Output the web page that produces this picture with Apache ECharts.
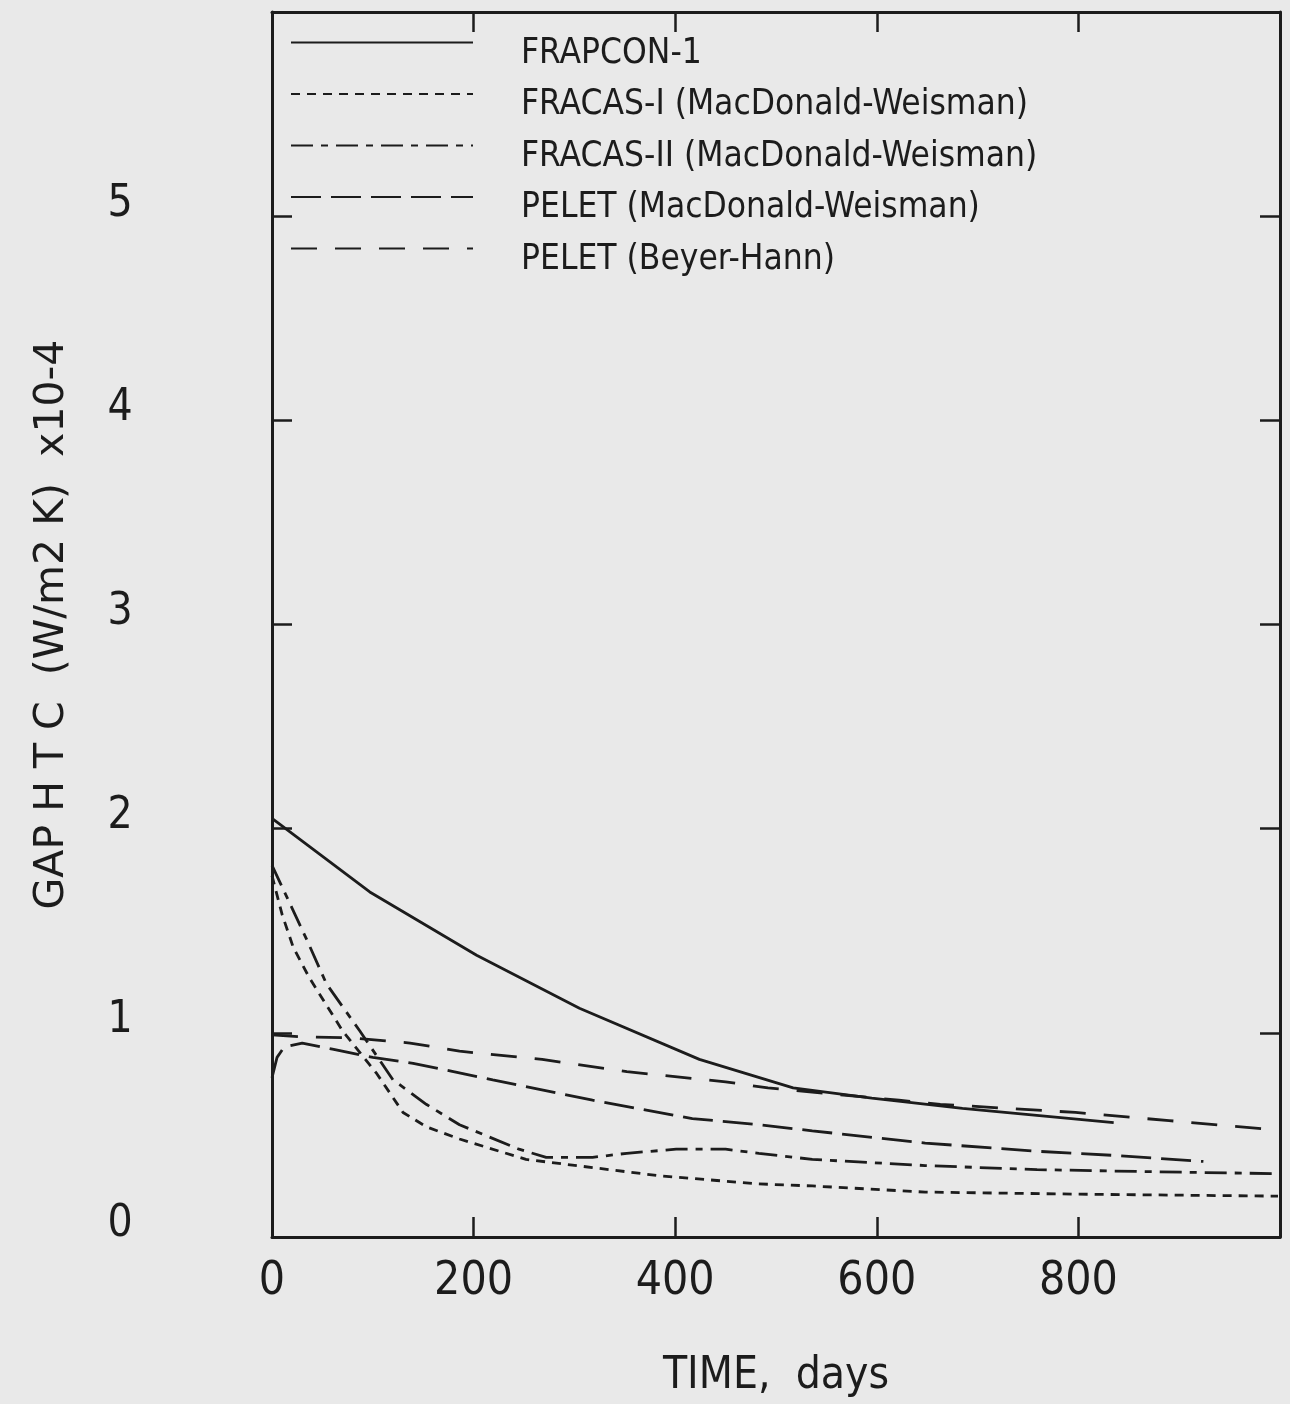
<!DOCTYPE html>
<html>
<head>
<meta charset="utf-8">
<title>GAP HTC vs TIME</title>
<script src="https://cdn.jsdelivr.net/npm/echarts@6/dist/echarts.min.js"></script>
<style>
html, body { margin: 0; padding: 0; background: #e9e9e9; }
#main { width: 1290px; height: 1404px; }
</style>
</head>
<body>
<div id="main"></div>
<script>
/* values: [days, GAP HTC x10-4] */
var frapcon1 = [[0, 2.05], [97, 1.69], [203, 1.38], [305, 1.12], [424, 0.87], [517, 0.73], [595, 0.68], [685, 0.63], [835, 0.56]];
var fracas1 = [[0, 1.77], [10, 1.58], [21, 1.42], [37, 1.27], [70, 1.01], [104, 0.80], [130, 0.61], [153, 0.54], [186, 0.48], [252, 0.38], [318, 0.34], [384, 0.30], [483, 0.26], [536, 0.25], [648, 0.22], [797, 0.21], [998, 0.20]];
var fracas2 = [[0, 1.82], [20, 1.61], [36, 1.44], [54, 1.24], [87, 1.01], [120, 0.77], [153, 0.65], [186, 0.55], [245, 0.43], [272, 0.39], [318, 0.39], [352, 0.41], [401, 0.43], [450, 0.43], [483, 0.41], [536, 0.38], [648, 0.35], [759, 0.33], [871, 0.32], [998, 0.31]];
var peletMW = [[0, 0.78], [5, 0.88], [12, 0.93], [30, 0.95], [60, 0.92], [100, 0.88], [140, 0.85], [180, 0.81], [219, 0.77], [318, 0.67], [417, 0.58], [483, 0.55], [536, 0.52], [648, 0.46], [759, 0.42], [834, 0.40], [924, 0.37]];
var peletBH = [[0, 0.99], [30, 0.98], [80, 0.975], [137, 0.95], [186, 0.91], [268, 0.87], [352, 0.81], [450, 0.76], [492, 0.73], [622, 0.67], [663, 0.65], [797, 0.61], [890, 0.57], [983, 0.53], [998, 0.525]];
var seriesNames = ['FRAPCON-1', 'FRACAS-I (MacDonald-Weisman)', 'FRACAS-II (MacDonald-Weisman)', 'PELET (MacDonald-Weisman)', 'PELET (Beyer-Hann)'];
var xTickLabels = ['0', '200', '400', '600', '800'];
var yTickLabels = ['0', '1', '2', '3', '4', '5'];

var ink = '#1c1c1c';
var narrow = '"Liberation Sans Narrow", "DejaVu Sans Condensed", sans-serif';

function frameAxis(extra) {
	var a = {
		type : 'value',
		axisLine : { show : true, onZero : false, lineStyle : { color : ink, width : 3 } },
		axisTick : { show : true, inside : true, length : 20, lineStyle : { color : ink, width : 2.5 } },
		splitLine : { show : false },
		axisLabel : { show : false }
	};
	for (var k in extra) a[k] = extra[k];
	return a;
}

function makeLine(name, data, dash) {
	return {
		name : name,
		type : 'line',
		data : data,
		symbol : 'none',
		showSymbol : false,
		smooth : false,
		lineStyle : { color : ink, width : 2.8, type : dash },
		itemStyle : { color : ink },
		xAxisIndex : 0,
		yAxisIndex : 0
	};
}

var option = {
	backgroundColor : '#e9e9e9',
	animation : false,
	grid : { left : 272, right : 10, top : 12, bottom : 163 },
	legend : {
		orient : 'vertical',
		left : 290,
		top : 14,
		padding : 0,
		itemWidth : 182,
		itemHeight : 20,
		itemGap : -5.5,
		data : seriesNames,
		itemStyle : { opacity : 0 },
		/* empty first line drops the name a little below its line sample */
		formatter : function(name) { return '\n' + name; },
		textStyle : { color : ink, fontSize : 35, fontFamily : narrow, padding : [0, 0, 0, 43], lineHeight : 22 }
	},
	xAxis : [
		frameAxis({
			min : 0, max : 1000, interval : 200, position : 'bottom',
			name : 'TIME,  days', nameLocation : 'middle', nameGap : 118,
			nameTextStyle : { color : ink, fontSize : 44, fontFamily : narrow },
			axisLabel : {
				show : true, margin : 22, color : ink, fontSize : 46, fontFamily : narrow,
				formatter : function(v) { var i = v / 200; return xTickLabels[i] !== undefined ? xTickLabels[i] : ''; }
			}
		}),
		frameAxis({ min : 0, max : 1000, interval : 200, position : 'top' })
	],
	yAxis : [
		frameAxis({
			min : 0, max : 6, interval : 1, position : 'left',
			name : 'GAP H T C  (W/m2 K)  x10-4', nameLocation : 'middle', nameGap : 199, nameRotate : 90,
			nameTextStyle : { color : ink, fontSize : 41, fontFamily : '"DejaVu Sans", sans-serif' },
			axisLabel : {
				show : true, margin : 152, align : 'center', verticalAlign : 'bottom', lineHeight : 24,
				color : ink, fontSize : 44, fontFamily : narrow,
				formatter : function(v) { return yTickLabels[v] !== undefined ? yTickLabels[v] : ''; }
			}
		}),
		frameAxis({ min : 0, max : 6, interval : 1, position : 'right' })
	],
	series : [
		makeLine(seriesNames[0], frapcon1, 'solid'),
		makeLine(seriesNames[1], fracas1, [9, 7]),
		makeLine(seriesNames[2], fracas2, [22, 8, 7, 8]),
		makeLine(seriesNames[3], peletMW, [30, 10]),
		makeLine(seriesNames[4], peletBH, [26, 18])
	]
};

var chart = echarts.init(document.getElementById('main'));
chart.setOption(option, true);
</script>
</body>
</html>
